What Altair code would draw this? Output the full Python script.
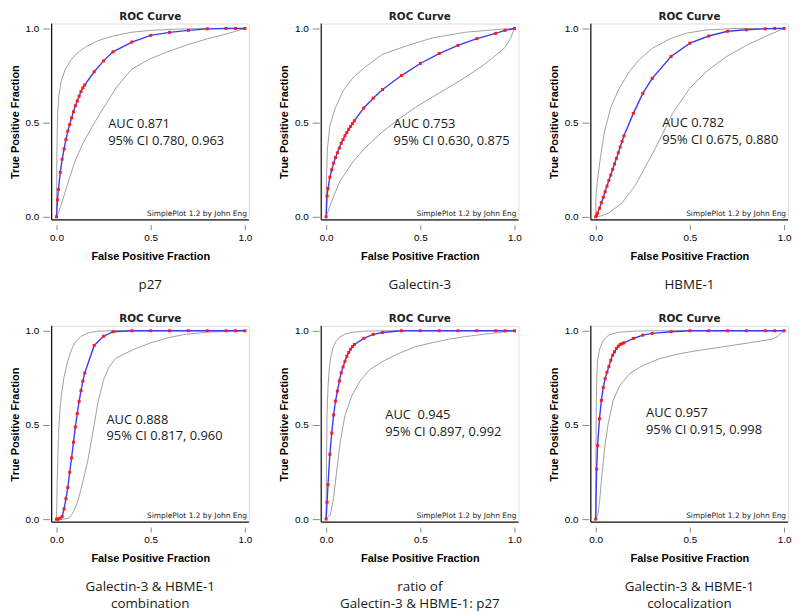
import altair as alt
import pandas as pd

# ---------------- data ----------------
CAPTIONS = ["p27", "Galectin-3", "HBME-1",
            "Galectin-3 & HBME-1\ncombination",
            "ratio of\nGalectin-3 & HBME-1: p27",
            "Galectin-3 & HBME-1\ncolocalization"]
AUC_LABELS = ["AUC 0.871", "AUC 0.753", "AUC 0.782", "AUC 0.888", "AUC \u00a00.945", "AUC 0.957"]
CI_LABELS = ["95% CI 0.780, 0.963", "95% CI 0.630, 0.875", "95% CI 0.675, 0.880",
             "95% CI 0.817, 0.960", "95% CI 0.897, 0.992", "95% CI 0.915, 0.998"]
TICK_VALUES = [0.0, 0.5, 1.0]

# operating points (false positive fraction) shared by every fitted ROC curve
FPF_POINTS = [0.0, 0.005, 0.01, 0.02, 0.03, 0.04, 0.05, 0.06, 0.07, 0.08, 0.09, 0.10,
              0.11, 0.12, 0.13, 0.14, 0.15, 0.2, 0.25, 0.3, 0.4, 0.5, 0.6, 0.7, 0.8,
              0.9, 0.95, 1.0]

P27_TPF = [0, 0.09, 0.145, 0.236, 0.306, 0.36, 0.41, 0.455, 0.49, 0.525, 0.558, 0.59,
           0.615, 0.64, 0.665, 0.685, 0.70, 0.77, 0.828, 0.876, 0.928, 0.963, 0.979,
           0.99, 0.998, 1.0, 1.0, 1.0]
GAL_TPF = [0, 0.11, 0.15, 0.21, 0.25, 0.285, 0.315, 0.34, 0.365, 0.39, 0.41, 0.43,
           0.447, 0.465, 0.48, 0.495, 0.51, 0.578, 0.63, 0.676, 0.75, 0.814, 0.867,
           0.91, 0.946, 0.974, 0.99, 1.0]
HBME_TPF = [0, 0.008, 0.02, 0.045, 0.075, 0.103, 0.133, 0.163, 0.193, 0.222, 0.252,
            0.28, 0.31, 0.34, 0.37, 0.40, 0.43, 0.549, 0.655, 0.735, 0.851, 0.922,
            0.96, 0.985, 0.993, 0.998, 1.0, 1.0]
COMB_TPF = [0, 0.0, 0.0, 0.005, 0.014, 0.054, 0.108, 0.168, 0.249, 0.325, 0.408, 0.489,
            0.56, 0.625, 0.682, 0.733, 0.776, 0.922, 0.971, 0.995, 1.0, 1.0, 1.0, 1.0,
            1.0, 1.0, 1.0, 1.0]
RATIO_TPF = [0, 0.09, 0.183, 0.344, 0.457, 0.553, 0.627, 0.68, 0.733, 0.777, 0.808,
             0.838, 0.864, 0.885, 0.902, 0.916, 0.927, 0.96, 0.981, 0.991, 1.0, 1.0,
             1.0, 1.0, 1.0, 1.0, 1.0, 1.0]
COLOC_TPF = [0, 0.266, 0.39, 0.533, 0.63, 0.698, 0.746, 0.78, 0.81, 0.843, 0.87, 0.888,
             0.906, 0.918, 0.927, 0.932, 0.936, 0.959, 0.977, 0.986, 0.995, 1.0, 1.0,
             1.0, 1.0, 1.0, 1.0, 1.0]

# 95% confidence limits (upper and lower grey curves)
P27_UP_FPF = [0, 0.002, 0.006, 0.012, 0.025, 0.045, 0.075, 0.11, 0.16, 0.22, 0.3, 0.4, 0.5, 0.65, 0.8, 1.0]
P27_UP_TPF = [0, 0.35, 0.55, 0.64, 0.72, 0.78, 0.83, 0.87, 0.905, 0.935, 0.96, 0.98, 0.99, 0.997, 1.0, 1.0]
P27_LO_FPF = [0, 0.01, 0.026, 0.045, 0.07, 0.1, 0.14, 0.19, 0.25, 0.32, 0.4, 0.5, 0.6, 0.7, 0.8, 0.9, 1.0]
P27_LO_TPF = [0, 0.02, 0.067, 0.13, 0.21, 0.3, 0.39, 0.48, 0.58, 0.69, 0.785, 0.84, 0.88, 0.915, 0.945, 0.97, 1.0]

GAL_UP_FPF = [0, 0.002, 0.007, 0.021, 0.047, 0.091, 0.144, 0.214, 0.30, 0.425, 0.565, 0.74, 0.916, 1.0]
GAL_UP_TPF = [0, 0.2, 0.364, 0.487, 0.574, 0.67, 0.74, 0.80, 0.863, 0.907, 0.95, 0.98, 0.995, 1.0]
GAL_LO_FPF = [0, 0.03, 0.074, 0.144, 0.214, 0.30, 0.39, 0.477, 0.565, 0.653, 0.74, 0.828, 0.916, 0.95, 0.98, 1.0]
GAL_LO_TPF = [0, 0.084, 0.19, 0.294, 0.373, 0.452, 0.522, 0.583, 0.636, 0.688, 0.741, 0.80, 0.87, 0.90, 0.95, 1.0]

HBME_UP_FPF = [0, 0.002, 0.011, 0.025, 0.046, 0.08, 0.124, 0.178, 0.231, 0.302, 0.39, 0.48, 0.586, 0.746, 1.0]
HBME_UP_TPF = [0, 0.118, 0.207, 0.314, 0.45, 0.58, 0.68, 0.77, 0.835, 0.895, 0.943, 0.975, 0.992, 1.0, 1.0]
HBME_LO_FPF = [0, 0.03, 0.07, 0.14, 0.212, 0.266, 0.32, 0.409, 0.497, 0.586, 0.693, 0.8, 0.906, 1.0]
HBME_LO_TPF = [0, 0.005, 0.02, 0.074, 0.17, 0.27, 0.37, 0.55, 0.68, 0.77, 0.85, 0.91, 0.96, 1.0]

COMB_UP_FPF = [0, 0.002, 0.004, 0.008, 0.012, 0.018, 0.025, 0.04, 0.06, 0.08, 0.1, 0.13, 0.17, 0.22, 0.3, 1.0]
COMB_UP_TPF = [0, 0.1, 0.21, 0.36, 0.48, 0.57, 0.65, 0.755, 0.84, 0.9, 0.94, 0.97, 0.99, 0.998, 1.0, 1.0]
COMB_LO_FPF = [0, 0.04, 0.066, 0.085, 0.1, 0.12, 0.14, 0.166, 0.2, 0.22, 0.25, 0.28, 0.316, 0.407, 0.497, 0.588, 0.678, 0.805, 1.0]
COMB_LO_TPF = [0, 0.0, 0.005, 0.03, 0.06, 0.12, 0.2, 0.31, 0.5, 0.62, 0.74, 0.81, 0.855, 0.9, 0.935, 0.962, 0.98, 0.993, 1.0]

RATIO_UP_FPF = [0, 0.002, 0.005, 0.01, 0.017, 0.025, 0.035, 0.05, 0.07, 0.1, 0.14, 0.2, 0.3, 1.0]
RATIO_UP_TPF = [0, 0.3, 0.55, 0.7, 0.8, 0.86, 0.905, 0.94, 0.965, 0.982, 0.992, 0.998, 1.0, 1.0]
RATIO_LO_FPF = [0, 0.023, 0.04, 0.058, 0.075, 0.1, 0.136, 0.18, 0.232, 0.302, 0.389, 0.476, 0.564, 0.651, 0.738, 0.878, 1.0]
RATIO_LO_TPF = [0, 0.026, 0.113, 0.27, 0.41, 0.55, 0.654, 0.733, 0.794, 0.838, 0.881, 0.916, 0.937, 0.955, 0.969, 0.986, 1.0]

COLOC_UP_FPF = [0, 0.001, 0.003, 0.006, 0.01, 0.02, 0.04, 0.07, 0.12, 0.2, 0.3, 1.0]
COLOC_UP_TPF = [0, 0.3, 0.6, 0.76, 0.84, 0.9, 0.95, 0.978, 0.992, 0.998, 1.0, 1.0]
COLOC_LO_FPF = [0, 0.012, 0.021, 0.03, 0.048, 0.066, 0.093, 0.128, 0.181, 0.253, 0.342, 0.448, 0.573, 0.698, 0.84, 0.929, 0.964, 1.0]
COLOC_LO_TPF = [0, 0.027, 0.098, 0.204, 0.382, 0.506, 0.63, 0.71, 0.773, 0.817, 0.853, 0.879, 0.9, 0.918, 0.94, 0.954, 0.968, 1.0]

MAIN_TPF = [P27_TPF, GAL_TPF, HBME_TPF, COMB_TPF, RATIO_TPF, COLOC_TPF]
UPPER = [(P27_UP_FPF, P27_UP_TPF), (GAL_UP_FPF, GAL_UP_TPF), (HBME_UP_FPF, HBME_UP_TPF),
         (COMB_UP_FPF, COMB_UP_TPF), (RATIO_UP_FPF, RATIO_UP_TPF), (COLOC_UP_FPF, COLOC_UP_TPF)]
LOWER = [(P27_LO_FPF, P27_LO_TPF), (GAL_LO_FPF, GAL_LO_TPF), (HBME_LO_FPF, HBME_LO_TPF),
         (COMB_LO_FPF, COMB_LO_TPF), (RATIO_LO_FPF, RATIO_LO_TPF), (COLOC_LO_FPF, COLOC_LO_TPF)]

# ---------------- layout / style (not data) ----------------
W, H = 199, 198
X_DOMAIN = [-0.026, 1.021]
Y_DOMAIN = [-0.016, 1.026]
ANNOT_POS = [(0.274, 0.525), (0.358, 0.525), (0.353, 0.53),
             (0.265, 0.56), (0.314, 0.585), (0.267, 0.593)]

x_enc = alt.X("fpf:Q", scale=alt.Scale(domain=X_DOMAIN, nice=False, zero=False),
              axis=alt.Axis(values=TICK_VALUES, format=".1f", title="False Positive Fraction",
                            offset=5, tickSize=5, labelPadding=3, titlePadding=8,
                            domain=False, grid=False))
y_enc = alt.Y("tpf:Q", scale=alt.Scale(domain=Y_DOMAIN, nice=False, zero=False),
              axis=alt.Axis(values=TICK_VALUES, format=".1f", title="True Positive Fraction",
                            offset=2, tickSize=7, labelPadding=4, titlePadding=5,
                            domain=False, grid=False))


def panel(i):
    main = pd.DataFrame({"fpf": FPF_POINTS, "tpf": MAIN_TPF[i]})
    uf, ut = UPPER[i]
    lf, lt = LOWER[i]
    ci = pd.concat([
        pd.DataFrame({"fpf": uf, "tpf": ut, "band": "upper", "idx": range(len(uf))}),
        pd.DataFrame({"fpf": lf, "tpf": lt, "band": "lower", "idx": range(len(lf))}),
    ])
    one = pd.DataFrame({"k": [0]})

    frame_left = alt.Chart(one).mark_rule(color="#111", strokeWidth=1.2).encode(
        x=alt.value(0), y=alt.value(0), y2=alt.value(H))
    frame_bottom = alt.Chart(one).mark_rule(color="#111", strokeWidth=1.2).encode(
        x=alt.value(0), x2=alt.value(W), y=alt.value(H))

    ci_lines = alt.Chart(ci).mark_line(color="#a0a0a0", strokeWidth=1).encode(
        x=x_enc, y=y_enc, detail="band:N", order="idx:Q")
    line = alt.Chart(main).mark_line(color="#3b3bff", strokeWidth=1.4).encode(x=x_enc, y=y_enc)
    pts = alt.Chart(main).mark_point(shape="square", filled=True, size=9, opacity=1,
                                     color="#ff1a1a").encode(x=x_enc, y=y_enc)

    ax, ay = ANNOT_POS[i]
    annot = alt.Chart(pd.DataFrame({"t": [AUC_LABELS[i] + "\n" + CI_LABELS[i]]})).mark_text(
        align="left", baseline="top", font="Open Sans", fontSize=13, lineBreak="\n",
        lineHeight=17, color="#1a1a1a").encode(
        x=alt.XDatum(ax, type="quantitative"), y=alt.YDatum(ay, type="quantitative"), text="t:N")

    credit = alt.Chart(one).mark_text(align="right", baseline="bottom", font="DejaVu Sans",
                                      fontSize=7.5, color="#222").encode(
        x=alt.value(W - 2), y=alt.value(H - 2), text=alt.value("SimplePlot 1.2 by John Eng"))

    caption = alt.Chart(pd.DataFrame({"c": [CAPTIONS[i]]})).mark_text(
        align="center", baseline="top", font="Open Sans", fontSize=13.5, lineBreak="\n",
        lineHeight=16.5, color="#1a1a1a").encode(x=alt.value(W / 2), y=alt.value(H + 59), text="c:N")

    return alt.layer(ci_lines, line, pts, annot, credit, frame_left, frame_bottom, caption).properties(
        width=W, height=H,
        title=alt.TitleParams("ROC Curve", font="DejaVu Sans", fontSize=10.5, fontWeight="bold",
                              color="#222", offset=1, anchor="middle", frame="group"))


row1 = alt.hconcat(panel(0), panel(1), panel(2), spacing=25)
row2 = alt.hconcat(panel(3), panel(4), panel(5), spacing=25)

chart = alt.vconcat(row1, row2, spacing=21).properties(
    padding={"left": 0, "top": 0, "right": 0, "bottom": 0}
).configure_view(stroke="#a8a8a8", strokeWidth=1).configure_axis(
    labelFont="DejaVu Sans", labelFontSize=11, labelColor="#444",
    titleFont="DejaVu Sans", titleFontSize=9.7, titleFontWeight="bold", titleColor="#222",
    tickColor="#222", tickWidth=1.2
).configure(background="white")

chart.save("out.html", embed_options={"renderer": "svg", "actions": False})
